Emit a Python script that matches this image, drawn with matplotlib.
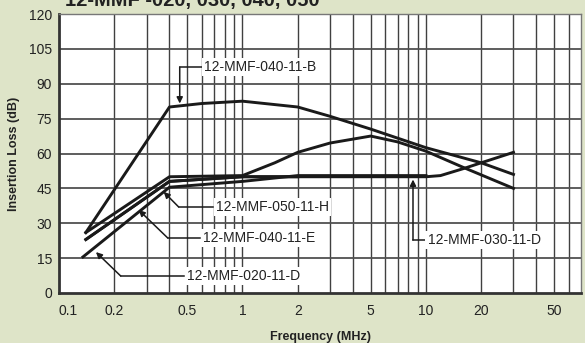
import matplotlib
matplotlib.use("Agg")
import matplotlib.pyplot as plt
import matplotlib.transforms as mtransforms
from matplotlib.ticker import FixedLocator, NullFormatter

plt.rcParams['font.family'] = ['Liberation Sans', 'DejaVu Sans']

# insertion loss curves (MHz, dB)
f_b = [0.14, 0.4, 0.6, 1, 2, 3, 5, 10, 20, 30]
il_b = [26, 80, 81.5, 82.5, 80, 76, 70.5, 62.5, 56, 51]
f_h = [0.14, 0.4, 1, 1.5, 2, 3, 5, 7, 10, 16, 30]
il_h = [26, 50, 50.5, 56, 60.5, 64.5, 67.5, 65, 61, 54, 45]
f_030 = [0.14, 0.4, 1, 10, 12, 16, 20, 30]
il_030 = [23, 48, 50, 50, 50.5, 53.5, 56, 60.5]
f_040e = [0.14, 0.4, 1, 2]
il_040e = [23, 48, 50, 50]
f_020 = [0.135, 0.4, 1, 2, 10]
il_020 = [15.5, 45.5, 48, 50.5, 50.5]

curves = [(f_b, il_b), (f_h, il_h), (f_030, il_030), (f_040e, il_040e), (f_020, il_020)]

xticks = [0.1, 0.2, 0.5, 1, 2, 5, 10, 20, 50]
xticklabels = ['0.1', '0.2', '0.5', '1', '2', '5', '10', '20', '50']
xgrid = [0.2, 0.3, 0.4, 0.5, 0.6, 0.7, 0.8, 0.9, 1, 2, 3, 4, 5, 6, 7, 8, 9, 10,
         20, 30, 40, 50, 60]
yticks = list(range(0, 121, 15))

bg = '#dee4c8'
fig = plt.figure(figsize=(5.85, 3.43), dpi=100, facecolor=bg)
ax = fig.add_axes([59/585, 50/343, 522/585, 279/343])
ax.set_facecolor('white')
ax.set_xscale('log')
ax.set_xlim(0.1, 70)
ax.set_ylim(0, 120)

for xv in xgrid:
    ax.axvline(xv, color='#404040', lw=1.0, zorder=1)
for yv in yticks[1:]:
    ax.axhline(yv, color='#505050', lw=1.3, zorder=1)

for f, il in curves:
    ax.plot(f, il, color='#1a1a1a', lw=2.1, zorder=3, solid_joinstyle='round')

ax.xaxis.set_major_locator(FixedLocator(xticks))
ax.xaxis.set_minor_locator(FixedLocator([]))
ax.xaxis.set_minor_formatter(NullFormatter())
ax.set_xticklabels(xticklabels)
ax.set_yticks(yticks)
ax.tick_params(length=0, labelsize=10, colors='#222222')
ax.tick_params(axis='x', pad=8)
ax.tick_params(axis='y', pad=5)

# the first frequency label sits a little right of the axis edge
first = ax.get_xticklabels()[0]
first.set_transform(first.get_transform() +
                    mtransforms.ScaledTranslation(9/100, 0, fig.dpi_scale_trans))

for s in ['left', 'bottom']:
    ax.spines[s].set_color('#333333')
    ax.spines[s].set_linewidth(2)
for s in ['top', 'right']:
    ax.spines[s].set_color('#777777')
    ax.spines[s].set_linewidth(1)

ax.set_xlabel('Frequency (MHz)', fontsize=9, fontweight='bold', color='#222222', labelpad=9)
ax.set_ylabel('Insertion Loss (dB)', fontsize=9, fontweight='bold', color='#222222', labelpad=6)

box = dict(facecolor='white', edgecolor='none', pad=1.5)
arrow = dict(arrowstyle='-|>', color='#1a1a1a', lw=1.1, mutation_scale=9, shrinkA=0, shrinkB=0)

def label(text, xy, corner, xytext):
    ax.plot([xytext[0] * 0.965, corner[0]], [xytext[1], corner[1]], color='#1a1a1a', lw=1.1, zorder=4)
    ax.annotate('', xy=xy, xytext=corner, arrowprops=arrow, zorder=4)
    ax.text(xytext[0], xytext[1], text, fontsize=10, va='center', ha='left',
            color='#222222', bbox=box, zorder=5)

label('12-MMF-040-11-B', (0.455, 81.5), (0.455, 97.2), (0.62, 97.2))
label('12-MMF-050-11-H', (0.372, 43.5), (0.449, 37), (0.72, 37))
label('12-MMF-040-11-E', (0.272, 35.7), (0.391, 23.7), (0.61, 23.7))
label('12-MMF-020-11-D', (0.159, 17.6), (0.217, 7.3), (0.50, 7.3))
label('12-MMF-030-11-D', (8.5, 48.8), (8.5, 22.8), (10.2, 22.8))

fig.text(65/585, 1 - 6/343, '12-MMF -020, 030, 040, 050', fontsize=14.5, fontweight='bold',
         color='#222222', va='baseline', ha='left')

fig.savefig('out.png', dpi=100, facecolor=bg)
